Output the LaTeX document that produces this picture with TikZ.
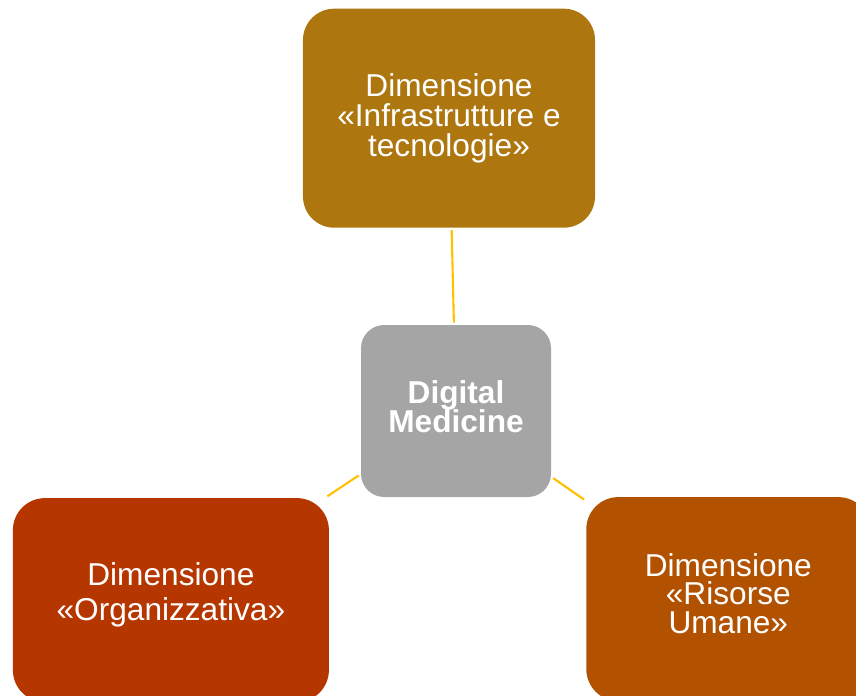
\documentclass[tikz,border=0pt]{standalone}
\usepackage{fontspec}
\setmainfont{Liberation Sans}
\usepackage{xcolor}
\usetikzlibrary{positioning}

\definecolor{infraColor}{RGB}{173,118,15}
\definecolor{orgColor}{RGB}{182,54,0}
\definecolor{hrColor}{RGB}{178,82,0}
\definecolor{coreColor}{RGB}{165,165,165}
\definecolor{linkColor}{RGB}{255,192,0}

% fixed line spacing inside the boxes
\lineskiplimit=-100pt

\begin{document}
\begin{tikzpicture}[-,shorten >=1pt,shorten <=1pt,line width=1.5pt,linkColor,
    main node/.style={rectangle,inner sep=0pt,align=center,text=white,font=\fontsize{22.5pt}{21.3pt}\selectfont,minimum height=5.1cm,rounded corners=0.8cm},
    core node/.style={main node,fill=coreColor,minimum width=4.75cm,minimum height=4.3cm,rounded corners=0.58cm,font=\bfseries\fontsize{22.5pt}{20.6pt}\selectfont}]

                \useasboundingbox (-11.4,-7.1) rectangle (10,10.275);

                \node[core node, text depth=0.2cm] (1) at (0,0) {Digital\\Medicine};
                \node[main node, fill=infraColor, minimum width=7.3cm, minimum height=5.475cm, rounded corners=0.78cm] (2) [above=2.38cm of 1, xshift=-0.175cm]{Dimensione\\«Infrastrutture e\\tecnologie»};
                \node[main node, fill=orgColor, minimum width=7.9cm, anchor=north east, font=\fontsize{22.5pt}{24.9pt}\selectfont, text depth=0.44cm] (3) [below left=-0.025cm and 0.75cm of 1]{Dimensione\\«Organizzativa»};
                \node[main node, fill=hrColor, minimum width=7.1cm, anchor=north west, font=\fontsize{22.5pt}{20.3pt}\selectfont, text depth=0.3cm] (4) [below right=-0.05cm and 0.83cm of 1]{Dimensione\\«Risorse\\Umane»};

                \draw[-] (1) to (2);
                \draw[-] (1) to (3);
                \draw[-] (1) to (4);

            \end{tikzpicture}
\end{document}
